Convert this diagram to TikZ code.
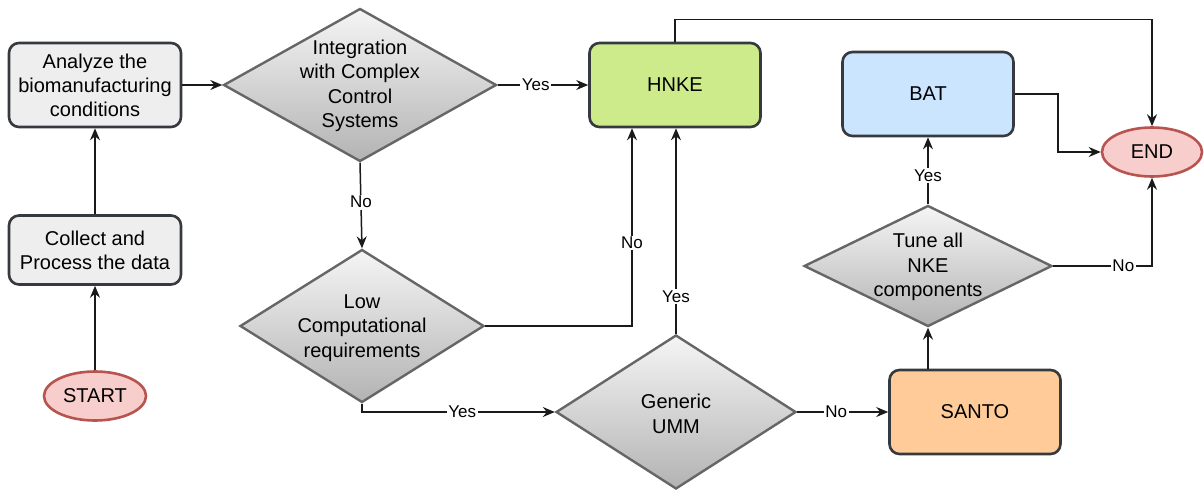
\documentclass[tikz,border=0pt]{standalone}
\usepackage{fontspec}
\setmainfont{Liberation Sans}
\usetikzlibrary{shapes.geometric,arrows.meta,calc}
\definecolor{boxline}{HTML}{36393D}
\definecolor{boxfill}{HTML}{EEEEEE}
\definecolor{dline}{HTML}{666666}
\definecolor{dtop}{HTML}{F5F5F5}
\definecolor{dbot}{HTML}{B3B3B3}
\definecolor{tline}{HTML}{B85450}
\definecolor{tfill}{HTML}{F8CECC}
\definecolor{hfill}{HTML}{CDEB8B}
\definecolor{bfill}{HTML}{CCE5FF}
\definecolor{sfill}{HTML}{FFCC99}
\definecolor{conn}{HTML}{1A1A1A}
\tikzset{
  procbox/.style={draw=boxline, line width=2.6pt, rounded corners=10pt, fill=boxfill,
    align=center, inner sep=0pt, font=\fontsize{20}{24}\selectfont},
  decision/.style={diamond, draw=dline, line width=2.4pt, top color=dtop, bottom color=dbot,
    inner sep=0pt},
  dtext/.style={align=center, inner sep=0pt, font=\fontsize{20}{24.5}\selectfont},
  term/.style={ellipse, draw=tline, fill=tfill, line width=2.6pt, inner sep=0pt,
    font=\fontsize{20}{24}\selectfont},
  arr/.style={draw=conn, line width=1.5pt, -{Stealth[length=12pt,width=10pt,inset=4pt]}},
  lab/.style={fill=white, inner sep=1.5pt, font=\fontsize{17}{20}\selectfont}
}
\begin{document}
\begin{tikzpicture}[x=1pt,y=-1pt]
\useasboundingbox[fill=white] (0,0) rectangle (1204,493);

% process boxes
\node[procbox, minimum width=172pt, minimum height=84pt] (an) at (95,85)
  {Analyze the\\biomanufacturing\\conditions};
\node[procbox, minimum width=172pt, minimum height=69pt] (co) at (95,250)
  {Collect and\\Process the data};
\node[procbox, fill=hfill, minimum width=171pt, minimum height=84pt] (hn) at (675,85) {HNKE};
\node[procbox, fill=bfill, minimum width=171pt, minimum height=84pt] (bat) at (928,94) {BAT};
\node[procbox, fill=sfill, minimum width=171pt, minimum height=84pt] (sa) at (975,412) {SANTO};

% terminals
\node[term, minimum width=102pt, minimum height=49pt] (st) at (95,396) {START};
\node[term, minimum width=100pt, minimum height=49pt] (en) at (1152,152) {END};

% decisions
\node[decision, minimum width=273pt, minimum height=153pt] (d1) at (360,85) {};
\node[dtext] (d1t) at (360,86) {Integration\\with Complex\\Control\\Systems};
\node[decision, minimum width=244pt, minimum height=153pt] (d2) at (362,326) {};
\node[dtext] (d2t) at (362,328) {Low\\Computational\\requirements};
\node[decision, minimum width=240pt, minimum height=154pt] (d3) at (676,412) {};
\node[dtext] (d3t) at (676,414) {Generic\\UMM};
\node[decision, minimum width=248pt, minimum height=121pt] (d4) at (928,266) {};
\node[dtext] (d4t) at (928,267) {Tune all\\NKE\\components};

% connectors
\draw[arr] (st) -- (co);
\draw[arr] (co) -- (an);
\draw[arr] (an) -- (d1);
\draw[arr] (d1) -- node[lab, pos=0.42] {Yes} (hn);
\draw[arr] (d1.south) -- node[lab, pos=0.46] {No} (d2.north);
\draw[arr] (d2.east) -| node[lab, pos=0.71] {No} ([xshift=-43pt]hn.south);
\draw[arr] (d2.south) |- node[lab, pos=0.76] {Yes} (d3.west);
\draw[arr] (d3.north) -- node[lab, pos=0.18] {Yes} (d3.north |- hn.south);
\draw[arr] (d3.east) -- node[lab, pos=0.43] {No} (sa.west);
\draw[arr] (d4.south |- sa.north) -- (d4.south);
\draw[arr] (d4.north) -- node[lab, pos=0.43] {Yes} (d4.north |- bat.south);
\draw[arr] (d4.east) -| node[lab, pos=0.355] {No} (en.south);
\draw[arr] (bat.east) -- ++(43,0) |- (en.west);
\draw[arr] (hn.north) -- ++(0,-22) -| (en.north);
\end{tikzpicture}
\end{document}
